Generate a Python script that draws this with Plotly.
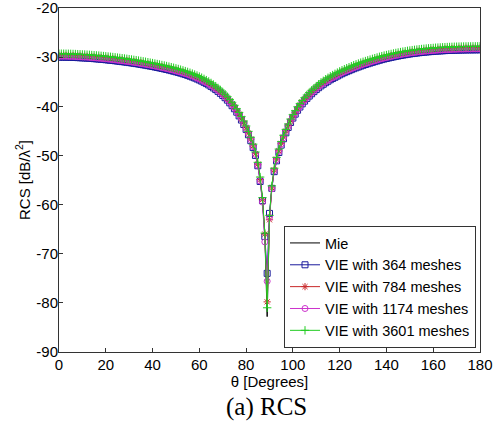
import plotly.graph_objects as go

# ---------------- data ----------------
theta = list(range(0, 181))

mie = [
    -29.50, -29.50, -29.50, -29.51, -29.52, -29.53, -29.55, -29.57, -29.60, -29.62,
    -29.65, -29.67, -29.70, -29.73, -29.77, -29.81, -29.85, -29.89, -29.94, -29.98,
    -30.03, -30.08, -30.13, -30.18, -30.24, -30.30, -30.36, -30.42, -30.48, -30.54,
    -30.61, -30.68, -30.75, -30.82, -30.90, -30.98, -31.06, -31.14, -31.23, -31.32,
    -31.41, -31.50, -31.60, -31.70, -31.80, -31.90, -32.01, -32.12, -32.24, -32.36,
    -32.48, -32.61, -32.75, -32.89, -33.04, -33.20, -33.37, -33.55, -33.74, -33.94,
    -34.15, -34.38, -34.62, -34.88, -35.15, -35.45, -35.76, -36.10, -36.47, -36.87,
    -37.29, -37.75, -38.25, -38.80, -39.38, -40.00, -40.70, -41.45, -42.30, -43.20,
    -44.20, -45.30, -46.50, -47.90, -49.50, -51.60, -54.60, -58.80, -66.20, -82.80,
    -62.40, -56.40, -52.80, -50.60, -48.90, -47.40, -46.10, -44.90, -43.80, -42.80,
    -41.90, -41.10, -40.30, -39.65, -39.00, -38.45, -37.90, -37.42, -36.95, -36.52,
    -36.10, -35.72, -35.35, -35.02, -34.70, -34.40, -34.10, -33.85, -33.60, -33.35,
    -33.10, -32.87, -32.65, -32.45, -32.25, -32.05, -31.85, -31.67, -31.50, -31.32,
    -31.15, -31.00, -30.85, -30.70, -30.55, -30.41, -30.27, -30.13, -30.00, -29.88,
    -29.77, -29.66, -29.55, -29.45, -29.35, -29.26, -29.17, -29.08, -29.00, -28.92,
    -28.85, -28.78, -28.72, -28.66, -28.60, -28.55, -28.50, -28.45, -28.41, -28.37,
    -28.33, -28.29, -28.26, -28.23, -28.20, -28.17, -28.15, -28.13, -28.11, -28.09,
    -28.08, -28.06, -28.05, -28.04, -28.03, -28.02, -28.02, -28.01, -28.01, -28.00, -28.00]

vie_364 = [
    -30.00, -30.00, -30.00, -30.01, -30.02, -30.03, -30.05, -30.07, -30.10, -30.12,
    -30.15, -30.17, -30.20, -30.23, -30.27, -30.31, -30.35, -30.39, -30.44, -30.48,
    -30.53, -30.58, -30.63, -30.68, -30.74, -30.80, -30.86, -30.92, -30.98, -31.04,
    -31.11, -31.18, -31.25, -31.32, -31.40, -31.48, -31.56, -31.64, -31.73, -31.82,
    -31.91, -32.00, -32.10, -32.20, -32.30, -32.40, -32.51, -32.62, -32.74, -32.86,
    -32.98, -33.11, -33.25, -33.39, -33.54, -33.70, -33.87, -34.05, -34.24, -34.44,
    -34.65, -34.88, -35.12, -35.38, -35.65, -35.95, -36.26, -36.60, -36.97, -37.37,
    -37.79, -38.25, -38.75, -39.30, -39.88, -40.50, -41.20, -41.95, -42.80,
    -43.7, -44.7, -45.8, -47.0, -48.4, -50.0, -52.1, -55.3, -59.2, -66.5, -74.0,
    -61.8, -56.7, -53.3, -51.1, -49.4, -47.9, -46.6, -45.4, -44.3, -43.3,
    -42.40, -41.60, -40.80, -40.15, -39.50, -38.95, -38.40, -37.92, -37.45, -37.02,
    -36.60, -36.22, -35.85, -35.52, -35.20, -34.90, -34.60, -34.35, -34.10, -33.85,
    -33.60, -33.37, -33.15, -32.95, -32.75, -32.55, -32.35, -32.17, -32.00, -31.82,
    -31.65, -31.50, -31.35, -31.20, -31.05, -30.91, -30.77, -30.63, -30.50, -30.38,
    -30.27, -30.16, -30.05, -29.95, -29.85, -29.76, -29.67, -29.58, -29.50, -29.42,
    -29.35, -29.28, -29.22, -29.16, -29.10, -29.05, -29.00, -28.95, -28.91, -28.87,
    -28.83, -28.79, -28.76, -28.73, -28.70, -28.67, -28.65, -28.63, -28.61, -28.59,
    -28.58, -28.56, -28.55, -28.54, -28.53, -28.52, -28.52, -28.51, -28.51, -28.50, -28.50]

vie_784 = [
    -29.65, -29.65, -29.65, -29.66, -29.67, -29.68, -29.70, -29.72, -29.75, -29.77,
    -29.80, -29.82, -29.85, -29.88, -29.92, -29.96, -30.00, -30.04, -30.09, -30.13,
    -30.18, -30.23, -30.28, -30.33, -30.39, -30.45, -30.51, -30.57, -30.63, -30.69,
    -30.76, -30.83, -30.90, -30.97, -31.05, -31.13, -31.21, -31.29, -31.38, -31.47,
    -31.56, -31.65, -31.75, -31.85, -31.95, -32.05, -32.16, -32.27, -32.39, -32.51,
    -32.63, -32.76, -32.90, -33.04, -33.19, -33.35, -33.52, -33.70, -33.89, -34.09,
    -34.30, -34.53, -34.77, -35.03, -35.30, -35.60, -35.91, -36.25, -36.62, -37.02,
    -37.44, -37.90, -38.40, -38.95, -39.53, -40.15, -40.85, -41.60, -42.45,
    -43.35, -44.35, -45.45, -46.65, -48.05, -49.65, -51.8, -54.9, -59.0, -66.0, -79.8,
    -63.1, -56.6, -52.95, -50.75, -49.05, -47.55, -46.25, -45.05, -43.95, -42.95,
    -42.05, -41.25, -40.45, -39.80, -39.15, -38.60, -38.05, -37.57, -37.10, -36.67,
    -36.25, -35.87, -35.50, -35.17, -34.85, -34.55, -34.25, -34.00, -33.75, -33.50,
    -33.25, -33.02, -32.80, -32.60, -32.40, -32.20, -32.00, -31.82, -31.65, -31.47,
    -31.30, -31.15, -31.00, -30.85, -30.70, -30.56, -30.42, -30.28, -30.15, -30.03,
    -29.92, -29.81, -29.70, -29.60, -29.50, -29.41, -29.32, -29.23, -29.15, -29.07,
    -29.00, -28.93, -28.87, -28.81, -28.75, -28.70, -28.65, -28.60, -28.56, -28.52,
    -28.48, -28.44, -28.41, -28.38, -28.35, -28.32, -28.30, -28.28, -28.26, -28.24,
    -28.23, -28.21, -28.20, -28.19, -28.18, -28.17, -28.17, -28.16, -28.16, -28.15, -28.15]

vie_1174 = [
    -29.80, -29.80, -29.80, -29.81, -29.82, -29.83, -29.85, -29.87, -29.90, -29.92,
    -29.95, -29.97, -30.00, -30.03, -30.07, -30.11, -30.15, -30.19, -30.24, -30.28,
    -30.33, -30.38, -30.43, -30.48, -30.54, -30.60, -30.66, -30.72, -30.78, -30.84,
    -30.91, -30.98, -31.05, -31.12, -31.20, -31.28, -31.36, -31.44, -31.53, -31.62,
    -31.71, -31.80, -31.90, -32.00, -32.10, -32.20, -32.31, -32.42, -32.54, -32.66,
    -32.78, -32.91, -33.05, -33.19, -33.34, -33.50, -33.67, -33.85, -34.04, -34.24,
    -34.45, -34.68, -34.92, -35.18, -35.45, -35.75, -36.06, -36.40, -36.77, -37.17,
    -37.59, -38.05, -38.55, -39.10, -39.68, -40.30, -41.00, -41.75, -42.60,
    -43.5, -44.5, -45.6, -46.8, -48.2, -49.8, -52.0, -55.2, -59.5, -67.6, -75.6,
    -62.6, -56.8, -53.1, -50.9, -49.2, -47.7, -46.4, -45.2, -44.1, -43.1,
    -42.20, -41.40, -40.60, -39.95, -39.30, -38.75, -38.20, -37.72, -37.25, -36.82,
    -36.40, -36.02, -35.65, -35.32, -35.00, -34.70, -34.40, -34.15, -33.90, -33.65,
    -33.40, -33.17, -32.95, -32.75, -32.55, -32.35, -32.15, -31.97, -31.80, -31.62,
    -31.45, -31.30, -31.15, -31.00, -30.85, -30.71, -30.57, -30.43, -30.30, -30.18,
    -30.07, -29.96, -29.85, -29.75, -29.65, -29.56, -29.47, -29.38, -29.30, -29.22,
    -29.15, -29.08, -29.02, -28.96, -28.90, -28.85, -28.80, -28.75, -28.71, -28.67,
    -28.63, -28.59, -28.56, -28.53, -28.50, -28.47, -28.45, -28.43, -28.41, -28.39,
    -28.38, -28.36, -28.35, -28.34, -28.33, -28.32, -28.32, -28.31, -28.31, -28.30, -28.30]

vie_3601 = [
    -29.30, -29.30, -29.30, -29.31, -29.32, -29.33, -29.35, -29.37, -29.40, -29.42,
    -29.45, -29.47, -29.50, -29.53, -29.57, -29.61, -29.65, -29.69, -29.74, -29.78,
    -29.83, -29.88, -29.93, -29.98, -30.04, -30.10, -30.16, -30.22, -30.28, -30.34,
    -30.41, -30.48, -30.55, -30.62, -30.70, -30.78, -30.86, -30.94, -31.03, -31.12,
    -31.21, -31.30, -31.40, -31.50, -31.60, -31.70, -31.81, -31.92, -32.04, -32.16,
    -32.28, -32.41, -32.55, -32.69, -32.84, -33.00, -33.17, -33.35, -33.54, -33.74,
    -33.95, -34.18, -34.42, -34.68, -34.95, -35.25, -35.56, -35.90, -36.27, -36.67,
    -37.09, -37.55, -38.05, -38.60, -39.18, -39.80, -40.50, -41.25, -42.10,
    -43.0, -44.0, -45.1, -46.3, -47.7, -49.3, -51.4, -54.4, -58.6, -65.8, -81.0,
    -62.2, -56.2, -52.6, -50.4, -48.7, -47.2, -45.9, -44.7, -43.6, -42.6,
    -41.70, -40.90, -40.10, -39.45, -38.80, -38.25, -37.70, -37.22, -36.75, -36.32,
    -35.90, -35.52, -35.15, -34.82, -34.50, -34.20, -33.90, -33.65, -33.40, -33.15,
    -32.90, -32.67, -32.45, -32.25, -32.05, -31.85, -31.65, -31.47, -31.30, -31.12,
    -30.95, -30.80, -30.65, -30.50, -30.35, -30.21, -30.07, -29.93, -29.80, -29.68,
    -29.57, -29.46, -29.35, -29.25, -29.15, -29.06, -28.97, -28.88, -28.80, -28.72,
    -28.65, -28.58, -28.52, -28.46, -28.40, -28.35, -28.30, -28.25, -28.21, -28.17,
    -28.13, -28.09, -28.06, -28.03, -28.00, -27.97, -27.95, -27.93, -27.91, -27.89,
    -27.88, -27.86, -27.85, -27.84, -27.83, -27.82, -27.82, -27.81, -27.81, -27.80, -27.80]

x_ticks = [0, 20, 40, 60, 80, 100, 120, 140, 160, 180]
x_tick_labels = ["0", "20", "40", "60", "80", "100", "120", "140", "160", "180"]
y_ticks = [-90, -80, -70, -60, -50, -40, -30, -20]
y_tick_labels = ["-90", "-80", "-70", "-60", "-50", "-40", "-30", "-20"]

names = ["Mie", "VIE with 364 meshes", "VIE with 784 meshes",
         "VIE with 1174 meshes", "VIE with 3601 meshes"]

# ---------------- figure ----------------
FONT = "Arial, Liberation Sans, sans-serif"
fig = go.Figure()
fig.add_trace(go.Scatter(x=theta, y=mie, mode="lines", name=names[0],
                         line=dict(color="#000000", width=1)))
styles = [
    (vie_364, "#1a1a9c", "square-open", 6),
    (vie_784, "#c8282a", "asterisk-open", 6),
    (vie_1174, "#cc33cc", "circle-open", 6),
    (vie_3601, "#22cc22", "cross-thin-open", 6),
]
for (vals, col, sym, sz), nm in zip(styles, names[1:]):
    fig.add_trace(go.Scatter(
        x=theta, y=vals, mode="lines+markers", name=nm,
        line=dict(color=col, width=1),
        marker=dict(symbol=sym, size=sz, color=col, line=dict(color=col, width=1)),
    ))

axis_common = dict(showline=True, mirror=True, linecolor="#333333", linewidth=1,
                   ticks="inside", ticklen=4, tickcolor="#333333",
                   showgrid=False, zeroline=False, automargin=False,
                   ticklabeloverflow="allow",
                   tickfont=dict(family=FONT, size=15, color="#000000"))

fig.update_layout(
    width=498, height=426,
    margin=dict(l=59, r=18, t=8, b=74),
    paper_bgcolor="white", plot_bgcolor="white",
    showlegend=True,
    legend=dict(x=0.9905, y=0.0116, xanchor="right", yanchor="bottom",
                bgcolor="white", bordercolor="#333333", borderwidth=1,
                font=dict(family=FONT, size=14.5, color="#000000"),
                itemwidth=30, tracegroupgap=0),
    xaxis=dict(range=[0, 180], tickvals=x_ticks, ticktext=x_tick_labels,
               ticklabelstandoff=-1,
               title=dict(text="θ [Degrees]", standoff=4,
                          font=dict(family=FONT, size=15, color="#000000")),
               **axis_common),
    yaxis=dict(range=[-90, -20], tickvals=y_ticks, ticktext=y_tick_labels,
               ticklabelstandoff=-3,
               title=dict(text="RCS [dB/λ<sup>2</sup>]", standoff=2,
                          font=dict(family=FONT, size=15, color="#000000")),
               **axis_common),
    annotations=[dict(text="(a) RCS", xref="paper", yref="paper", x=0.494, y=-0.16,
                      xanchor="center", yanchor="middle", showarrow=False, borderpad=0,
                      font=dict(family="Liberation Serif, Times New Roman, serif",
                                size=25, color="#000000"))],
)

fig.write_html("out.html", config={"displayModeBar": False},
               post_script="document.body.style.margin='0';")
